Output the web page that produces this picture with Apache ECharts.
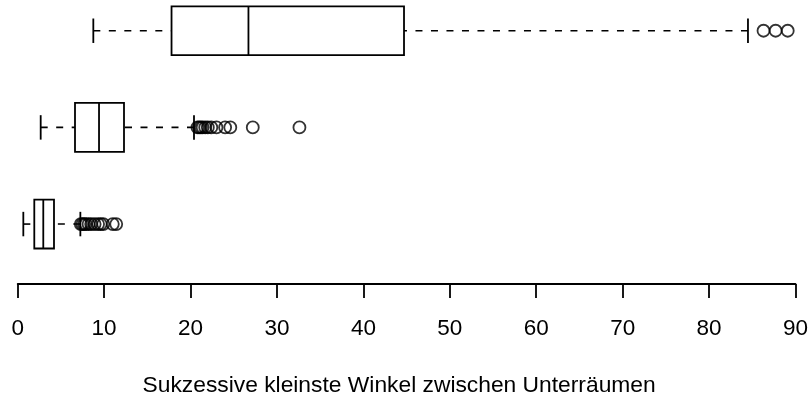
<!DOCTYPE html>
<html>
<head>
<meta charset="utf-8">
<script src="https://cdn.jsdelivr.net/npm/echarts@6/dist/echarts.min.js"></script>
<style>
  html, body { margin: 0; padding: 0; background: #fff; }
  #chart { width: 812px; height: 402px; }
</style>
</head>
<body>
<div id="chart"></div>
<script>
// Box rows, bottom to top: [lower whisker, Q1, median, Q3, upper whisker]
const rowPositions = [1, 2, 3];
const boxStats = [
  [0.65, 1.92, 2.96, 4.20, 7.25],
  [2.66, 6.63, 9.41, 12.30, 20.40],
  [8.75, 17.80, 26.70, 44.70, 84.50]
];

// Outlying values per row
const outliers1 = [7.3, 7.5, 7.7, 7.9, 8.2, 8.5, 8.9, 9.3, 9.6, 9.9, 11.0, 11.4];
const outliers2 = [20.8, 21.0, 21.2, 21.4, 21.7, 22.0, 22.4, 23.0, 24.0, 24.6, 27.2, 32.6];
const outliers3 = [86.3, 87.7, 89.1];

const xTicks = [0, 10, 20, 30, 40, 50, 60, 70, 80, 90];
const xTitle = 'Sukzessive kleinste Winkel zwischen Unterräumen';

const FONT = '"Liberation Sans", Arial, sans-serif';

const boxData = boxStats.map((s, i) => [rowPositions[i]].concat(s));
const outlierData = []
  .concat(outliers1.map(v => [v, rowPositions[0]]))
  .concat(outliers2.map(v => [v, rowPositions[1]]))
  .concat(outliers3.map(v => [v, rowPositions[2]]));

// Box, median, dashed whiskers (drawn from the cap towards the box) and caps
function renderBox(params, api) {
  const y = api.value(0);
  const pLo = api.coord([api.value(1), y]);
  const pQ1 = api.coord([api.value(2), y]);
  const pMed = api.coord([api.value(3), y]);
  const pQ3 = api.coord([api.value(4), y]);
  const pHi = api.coord([api.value(5), y]);
  const half = api.size([0, 0.253])[1];
  const cap = half / 2;
  const cy = pMed[1];
  const solid = { stroke: '#000', lineWidth: 1.8, fill: null };
  const dashed = { stroke: '#000', lineWidth: 1.6, lineDash: [7, 8.5], fill: null };
  return {
    type: 'group',
    children: [
      { type: 'line', shape: { x1: pLo[0], y1: cy, x2: pQ1[0], y2: cy }, style: dashed },
      { type: 'line', shape: { x1: pHi[0], y1: cy, x2: pQ3[0], y2: cy }, style: dashed },
      { type: 'line', shape: { x1: pLo[0], y1: cy - cap, x2: pLo[0], y2: cy + cap }, style: solid },
      { type: 'line', shape: { x1: pHi[0], y1: cy - cap, x2: pHi[0], y2: cy + cap }, style: solid },
      { type: 'rect', shape: { x: pQ1[0], y: cy - half, width: pQ3[0] - pQ1[0], height: 2 * half }, style: { stroke: '#000', lineWidth: 1.8, fill: '#fff' } },
      { type: 'line', shape: { x1: pMed[0], y1: cy - half, x2: pMed[0], y2: cy + half }, style: solid }
    ]
  };
}

const chart = echarts.init(document.getElementById('chart'), null, { renderer: 'canvas' });
chart.setOption({
  animation: false,
  backgroundColor: '#fff',
  grid: { left: 17.7, right: 16.5, top: 0, bottom: 116.5 },
  xAxis: {
    type: 'value',
    min: xTicks[0],
    max: xTicks[xTicks.length - 1],
    interval: xTicks[1] - xTicks[0],
    axisLine: { show: true, lineStyle: { color: '#000', width: 1.8 } },
    axisTick: { show: true, length: 14, lineStyle: { color: '#000', width: 1.8 } },
    splitLine: { show: false },
    axisLabel: { color: '#000', fontSize: 22.5, fontFamily: FONT, margin: 33 },
    name: xTitle,
    nameLocation: 'middle',
    nameGap: 90,
    nameTextStyle: { color: '#000', fontSize: 22.8, fontFamily: FONT, padding: [0, 15, 0, 0] }
  },
  yAxis: {
    type: 'value',
    min: 0.38,
    max: 3.318,
    show: false
  },
  series: [
    {
      type: 'custom',
      renderItem: renderBox,
      encode: { x: [1, 2, 3, 4, 5], y: 0 },
      data: boxData,
      z: 2
    },
    {
      type: 'scatter',
      data: outlierData,
      symbol: 'circle',
      symbolSize: 12,
      itemStyle: { color: 'rgba(0,0,0,0)', borderColor: '#000', borderWidth: 1.8 },
      z: 3
    }
  ]
});
</script>
</body>
</html>
